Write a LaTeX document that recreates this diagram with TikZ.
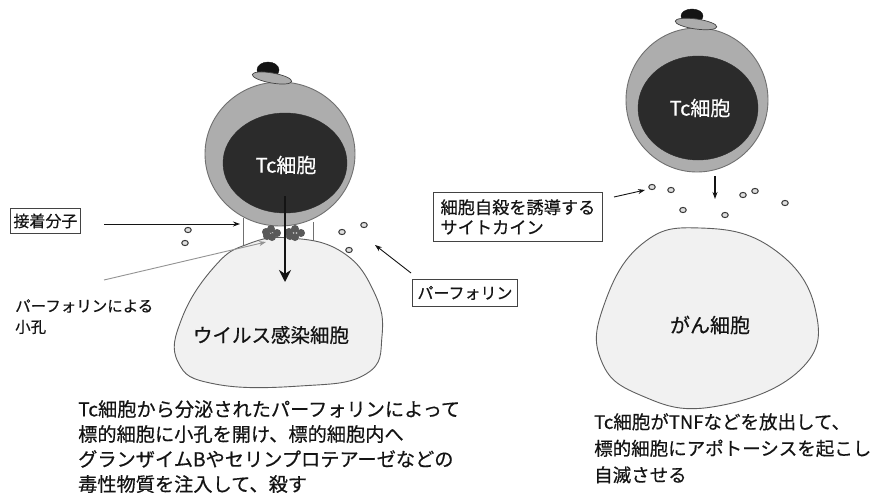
\documentclass[tikz,border=0pt]{standalone}
\usepackage{fontspec}
\newfontfamily\jp[FakeBold=0.5]{Noto Sans CJK JP}
\usetikzlibrary{arrows.meta}
\definecolor{cellgray}{HTML}{ADADAD}
\definecolor{celledge}{HTML}{707070}
\definecolor{nucleus}{HTML}{2B2B2B}
\definecolor{targetfill}{HTML}{F1F1F1}
\definecolor{targetedge}{HTML}{5E5E5E}
\definecolor{ink}{HTML}{141414}
\tikzset{
  outercell/.style={fill=cellgray,draw=celledge,line width=0.9pt},
  innercell/.style={fill=nucleus,draw=nucleus},
  target/.style={fill=targetfill,draw=targetedge,line width=0.9pt},
  labelbox/.style={draw=ink!80,line width=0.9pt,fill=white,inner sep=3pt,font=\jp\fontsize{16}{19}\selectfont,text=ink},
  plain/.style={font=\jp\fontsize{15.5}{21}\selectfont,text=ink,align=left},
  caption/.style={font=\jp\fontsize{19.2}{25}\selectfont,text=ink,align=left,inner sep=0pt},
  granule/.style={draw=ink!85,fill=gray!25,line width=1pt},
  thinarrow/.style={draw=ink,line width=0.9pt,-{Stealth[length=7pt,width=5pt]}},
  grayarrow/.style={draw=gray!85,line width=0.9pt,-{Stealth[length=7pt,width=5pt]}},
  hatbrim/.style={fill=gray!65,draw=ink!80,line width=0.7pt},
  hatcrown/.style={fill=ink,draw=ink},
  poreblob/.style={fill=gray!70!black,draw=none}
}
\begin{document}
\begin{tikzpicture}[x=1pt,y=-1pt]
\useasboundingbox[fill=white] (0,0) rectangle (885,503);

% ---------- left: Tc cell attacking a virus-infected cell ----------
% pore walls
\coordinate (wl1) at (243,218); \coordinate (wl2) at (243,246);
\coordinate (wr1) at (313,222); \coordinate (wr2) at (313,246);
\draw[celledge,line width=0.9pt] (wl1) -- (wl2);
\draw[celledge,line width=0.9pt] (wr1) -- (wr2);

% virus-infected cell
\draw[target] plot[smooth cycle,tension=0.75] coordinates
  {(290,238) (342,252) (374,292) (382,336) (366,374) (300,386) (215,384) (178,362) (182,318) (215,266) (248,244)};
\node[font=\jp\fontsize{19.5}{22}\selectfont,text=ink] (vcell) at (271,335) {ウイルス感染細胞};

% Tc cell
\path[outercell] (280,154) ellipse [x radius=75,y radius=72];
\path[innercell] (285,163) ellipse [x radius=62,y radius=50];
\node[font=\jp\fontsize{20}{22}\selectfont,text=white] (tcL) at (286,165) {Tc細胞};

% hat
\path[hatcrown] (268,70) ellipse [x radius=11,y radius=8];
\path[hatbrim,rotate around={-10:(272,78)}] (272,78) ellipse [x radius=20,y radius=5];

% pore-forming complex
\foreach \px/\py in {266/232,271/229,277/233,272/237,267/236,289/232,295/229,301/233,295/237,290/236}
  \path[poreblob] (\px,\py) circle (4);

% injection arrow
\coordinate (injS) at (285,196);
\coordinate (injE) at (285,282);
\draw[line width=2.8pt,ink,-{Stealth[length=12pt,width=12pt]}] (injS) -- (injE);

% perforin granules
\foreach \px/\py in {188/230,185/243,342/232,364/225,349/250}
  \path[granule] (\px,\py) ellipse [x radius=3.3,y radius=2.6];

% labels
\node[labelbox,anchor=north west,minimum height=25pt] (adh) at (10,208) {接着分子};
\coordinate (adhTail) at (104,224);
\coordinate (adhTip) at (240,224);
\draw[thinarrow] (adhTail) -- (adhTip);

\node[plain,anchor=north west,inner sep=0pt] (pore) at (15,299) {パーフォリンによる\\小孔};
\coordinate (poreTail) at (104,280);
\coordinate (poreTip) at (266,242);
\draw[grayarrow] (poreTail) -- (poreTip);

\node[labelbox,anchor=north west,minimum height=27pt,minimum width=105pt] (perf) at (412,279) {パーフォリン};
\coordinate (perfTail) at (411,273);
\coordinate (perfTip) at (375,245);
\draw[thinarrow] (perfTail) -- (perfTip);

\node[caption,anchor=north west] (capL) at (78,400)
  {Tc細胞から分泌されたパーフォリンによって\\標的細胞に小孔を開け、標的細胞内へ\\グランザイムBやセリンプロテアーゼなどの\\毒性物質を注入して、殺す};

% ---------- right: Tc cell inducing apoptosis in a cancer cell ----------
\draw[target] plot[smooth cycle,tension=0.75] coordinates
  {(700,228) (772,248) (815,308) (800,370) (712,407) (640,395) (601,360) (604,305) (642,244)};
\node[font=\jp\fontsize{20}{22}\selectfont,text=ink] (ccell) at (710,325) {がん細胞};

\path[outercell] (697,100) ellipse [x radius=71,y radius=72];
\path[innercell] (698,108) ellipse [x radius=60,y radius=52];
\node[font=\jp\fontsize{20}{22}\selectfont,text=white] (tcR) at (700,108) {Tc細胞};

\path[hatcrown] (692,16) ellipse [x radius=11,y radius=7];
\path[hatbrim,rotate around={-8:(696,24)}] (696,24) ellipse [x radius=21,y radius=5];

\coordinate (relS) at (715,176);
\coordinate (relE) at (715,199);
\draw[thinarrow,line width=1.2pt] (relS) -- (relE);

\foreach \px/\py in {652/187,671/190,683/210,743/195,755/191,725/215,785/203}
  \path[granule] (\px,\py) ellipse [x radius=3.3,y radius=2.6];

\node[labelbox,anchor=north west,align=left,minimum width=169pt,minimum height=49pt,font=\jp\fontsize{17.2}{20}\selectfont] (cyto) at (433,192)
  {細胞自殺を誘導する\\サイトカイン};
\coordinate (cytoTail) at (614,197);
\coordinate (cytoTip) at (645,190);
\draw[thinarrow] (cytoTail) -- (cytoTip);

\node[caption,anchor=north west,font=\jp\fontsize{18.5}{26.5}\selectfont] (capR) at (594,413)
  {Tc細胞がTNFなどを放出して、\\標的細胞にアポトーシスを起こし\\自滅させる};
\end{tikzpicture}
\end{document}
